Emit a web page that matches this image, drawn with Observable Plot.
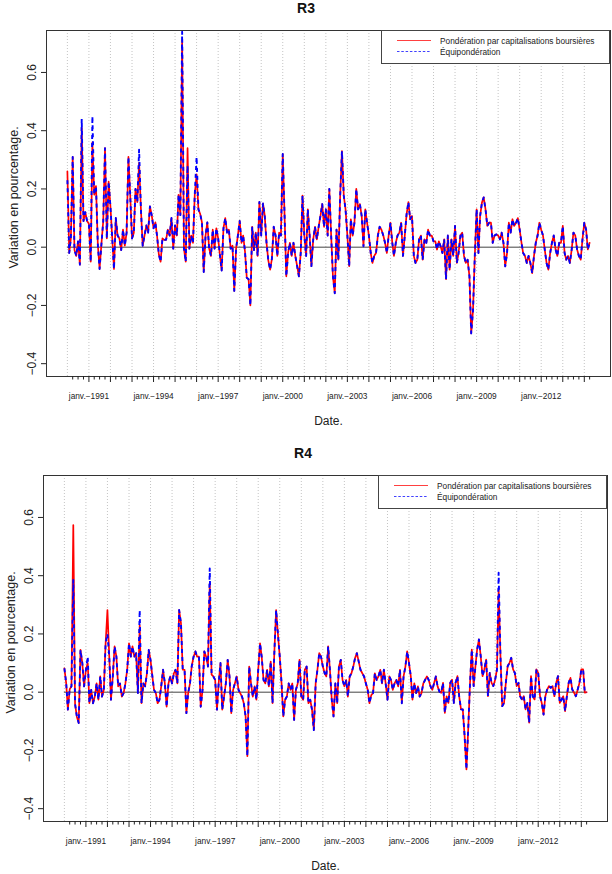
<!DOCTYPE html>
<html>
<head>
<meta charset="utf-8">
<script src="https://cdn.jsdelivr.net/npm/d3@7"></script>
<script src="https://cdn.jsdelivr.net/npm/@observablehq/plot@0.6"></script>
<style>
  body { margin: 0; background: #fff; }
  #page { position: relative; width: 612px; height: 874px; overflow: hidden;
          font-family: "Liberation Sans", Arial, Helvetica, sans-serif; color: #111; }
  .panel { position: absolute; width: 612px; height: 445px; }
  .title { position: absolute; left: 0; top: 0; width: 612px; text-align: center;
           font-weight: bold; font-size: 14px; line-height: 16px; }
  .legend { position: absolute; }
</style>
</head>
<body>
<div id="page"></div>
<script>
// Monthly observations, January 1990 to April 2014
const startYear = 1990;
const nMonths = 292;

// R3 — capitalisation-weighted returns
const r3Cap = [
  0.26, -0.02, 0.03, 0.31, -0.01, -0.03, 0.02, -0.06, 0.41, 0.09, 0.12, 0.09,
  0.08, -0.05, 0.36, 0.18, 0.21, 0.01, -0.075, 0.01, 0.09, 0.34, 0.03, 0.225,
  0.14, 0.03, -0.075, 0.10, 0.04, 0.03, -0.01, 0.06, 0.005, 0.05, 0.31, 0.18,
  0.03, 0.05, 0.20, 0.155, 0.29, 0.13, 0.005, 0.04, 0.075, 0.05, 0.14, 0.11,
  0.065, 0.085, 0.04, -0.025, -0.05, 0.03, 0.025, 0.025, 0.06, 0.04, 0.10, -0.005,
  0.075, 0.04, 0.18, 0.11, 0.71, -0.005, -0.05, 0.34, -0.005, 0.04, 0.015, 0.18,
  0.25, 0.13, 0.115, 0.085, -0.085, 0.04, 0.085, -0.005, -0.03, 0.06, -0.005, 0.065,
  0.03, -0.03, -0.08, 0.065, 0.10, 0.05, 0.06, -0.005, 0.005, -0.15, -0.005, 0.04,
  0.09, 0.015, 0.04, -0.015, -0.105, -0.11, -0.20, 0.07, -0.01, 0.05, -0.03, 0.155,
  0.04, 0.15, 0.11, 0.015, -0.045, -0.077, -0.04, 0.07, 0.04, -0.03, 0.05, 0.04,
  0.32, 0.11, -0.1, -0.02, 0.015, -0.03, 0.015, -0.03, -0.065, -0.1, -0.02, 0.177,
  0.04, -0.03, 0.13, 0.04, -0.065, 0.027, 0.07, 0.027, 0.07, 0.107, 0.148, 0.07,
  0.13, 0.04, 0.2, 0.04, -0.1, -0.158, 0.06, -0.043, 0.177, 0.33, 0.177, 0.13,
  0.04, -0.065, 0.096, 0.04, 0.084, 0.2, 0.13, 0.148, 0.107, 0.003, 0.13, 0.084,
  0.04, -0.02, -0.054, -0.03, -0.02, 0.04, 0.07, 0.06, 0.04, 0.015, -0.02, 0.04,
  0.084, 0.015, -0.03, 0.015, 0.04, 0.05, 0.084, -0.03, 0.04, 0.113, 0.155, 0.096,
  0.107, -0.03, -0.054, -0.043, 0.027, 0.04, -0.043, 0.027, 0.015, 0.06, 0.04, 0.04,
  0.02, 0.02, -0.008, 0.02, 0.003, -0.02, 0.027, -0.11, 0.04, -0.077, 0.027, -0.03,
  0.073, -0.054, -0.02, 0.04, 0.05, -0.03, -0.054, -0.043, -0.1, -0.296, -0.216, -0.03,
  0.13, -0.02, 0.107, 0.153, 0.171, 0.13, 0.073, 0.084, 0.084, 0.015, 0.04, 0.044,
  0.04, 0.027, 0.05, 0.015, -0.066, -0.02, 0.084, 0.05, 0.096, 0.073, 0.084, 0.1,
  0.06, 0.015, -0.02, -0.03, -0.054, -0.03, -0.054, -0.089, -0.03, 0.015, 0.04, 0.084,
  0.06, 0.04, -0.008, -0.054, -0.077, -0.02, 0.015, 0.04, -0.008, -0.03, 0.015, 0.015,
  0.073, -0.02, -0.043, -0.03, -0.054, -0.008, 0.05, 0.04, -0.008, -0.03, -0.043, 0.027,
  0.084, 0.06, -0.008, 0.015
];

// R3 — equal-weighted returns
const r3Eq = [
  0.23, -0.02, 0.03, 0.31, -0.01, -0.03, 0.02, -0.06, 0.44, 0.09, 0.12, 0.09,
  0.08, -0.05, 0.45, 0.18, 0.21, 0.01, -0.075, 0.01, 0.09, 0.34, 0.03, 0.225,
  0.14, 0.03, -0.075, 0.10, 0.04, 0.03, -0.01, 0.06, 0.005, 0.05, 0.31, 0.18,
  0.03, 0.05, 0.20, 0.155, 0.335, 0.13, 0.005, 0.04, 0.075, 0.05, 0.14, 0.11,
  0.065, 0.085, 0.04, -0.025, -0.05, 0.03, 0.025, 0.025, 0.06, 0.04, 0.10, -0.005,
  0.075, 0.04, 0.18, 0.11, 0.74, -0.005, -0.05, 0.28, -0.005, 0.04, 0.015, 0.18,
  0.31, 0.13, 0.115, 0.085, -0.085, 0.04, 0.085, -0.005, -0.03, 0.06, -0.005, 0.065,
  0.03, -0.03, -0.08, 0.065, 0.10, 0.05, 0.06, -0.005, 0.005, -0.15, -0.005, 0.04,
  0.09, 0.015, 0.04, -0.015, -0.105, -0.11, -0.20, 0.07, -0.01, 0.05, -0.03, 0.155,
  0.04, 0.15, 0.11, 0.015, -0.045, -0.077, -0.04, 0.07, 0.04, -0.03, 0.05, 0.04,
  0.32, 0.11, -0.1, -0.02, 0.015, -0.03, 0.015, -0.03, -0.065, -0.1, -0.02, 0.177,
  0.04, -0.03, 0.13, 0.04, -0.065, 0.027, 0.07, 0.027, 0.07, 0.107, 0.148, 0.07,
  0.13, 0.04, 0.2, 0.04, -0.1, -0.158, 0.06, -0.043, 0.177, 0.33, 0.177, 0.13,
  0.04, -0.065, 0.096, 0.04, 0.084, 0.2, 0.13, 0.148, 0.107, 0.003, 0.13, 0.084,
  0.04, -0.02, -0.054, -0.03, -0.02, 0.04, 0.07, 0.06, 0.04, 0.015, -0.02, 0.04,
  0.084, 0.015, -0.03, 0.015, 0.04, 0.05, 0.084, -0.03, 0.04, 0.113, 0.155, 0.096,
  0.107, -0.03, -0.054, -0.043, 0.027, 0.04, -0.043, 0.027, 0.015, 0.06, 0.04, 0.04,
  0.02, 0.02, -0.008, 0.02, 0.003, -0.02, 0.027, -0.11, 0.04, -0.077, 0.027, -0.03,
  0.073, -0.054, -0.02, 0.04, 0.05, -0.03, -0.054, -0.043, -0.1, -0.296, -0.216, -0.03,
  0.13, -0.02, 0.107, 0.153, 0.171, 0.13, 0.073, 0.084, 0.084, 0.015, 0.04, 0.044,
  0.04, 0.027, 0.05, 0.015, -0.066, -0.02, 0.084, 0.05, 0.096, 0.073, 0.084, 0.1,
  0.06, 0.015, -0.02, -0.03, -0.054, -0.03, -0.054, -0.089, -0.03, 0.015, 0.04, 0.084,
  0.06, 0.04, -0.008, -0.054, -0.077, -0.02, 0.015, 0.04, -0.008, -0.03, 0.015, 0.015,
  0.073, -0.02, -0.043, -0.03, -0.054, -0.008, 0.05, 0.04, -0.008, -0.03, -0.043, 0.027,
  0.084, 0.06, -0.008, 0.015
];

// R4 — capitalisation-weighted returns
const r4Cap = [
  0.082, 0.03, -0.06, 0.01, 0.02, 0.574, -0.04, -0.085, -0.106, 0.145, 0.1, 0.02,
  0.077, 0.10, -0.038, 0.008, -0.038, -0.015, 0.03, -0.026, 0.054, -0.015, 0.008, 0.168,
  0.282, 0.122, -0.026, 0.054, 0.157, 0.122, 0.02, 0.03, -0.015, -0.003, 0.03, 0.077,
  0.168, 0.122, 0.157, 0.122, 0.134, -0.003, 0.23, -0.038, 0.03, 0.02, 0.065, 0.145,
  0.11, 0.054, 0.008, -0.003, -0.038, -0.026, 0.02, 0.077, 0.03, -0.05, 0.03, 0.054,
  0.03, 0.065, 0.077, 0.03, 0.282, 0.237, 0.077, 0.077, -0.072, -0.003, 0.03, 0.09,
  0.122, 0.14, 0.122, 0.122, -0.05, 0.008, 0.14, 0.122, 0.088, 0.374, 0.06, 0.054,
  0.042, -0.06, 0.03, 0.1, -0.06, -0.015, 0.03, 0.111, 0.054, -0.072, 0.008, 0.03,
  0.054, 0.008, -0.003, -0.015, -0.038, -0.083, -0.22, 0.088, 0.03, -0.015, 0.02, -0.026,
  0.077, 0.168, 0.122, 0.042, 0.03, 0.077, 0.02, 0.105, -0.038, 0.134, 0.282, 0.2,
  0.122, 0.03, -0.083, -0.026, -0.015, 0.03, 0.008, 0.03, -0.095, 0.008, 0.03, 0.111,
  -0.015, -0.026, 0.077, 0.088, -0.038, -0.026, -0.06, -0.13, 0.03, 0.077, 0.134, 0.122,
  0.088, 0.065, 0.054, 0.157, 0.077, -0.026, -0.083, 0.03, -0.038, 0.088, 0.111, 0.042,
  0.02, 0.042, -0.015, 0.054, 0.065, 0.088, 0.117, 0.134, 0.105, 0.077, 0.065, 0.054,
  0.03, 0.008, -0.038, -0.01, -0.003, 0.065, 0.042, 0.054, 0.077, 0.03, 0.077, 0.03,
  -0.026, 0.054, 0.042, 0.008, 0.03, 0.042, 0.02, 0.077, -0.038, 0.054, 0.088, 0.14,
  0.1, 0.054, -0.026, 0.03, -0.003, 0.02, -0.015, -0.003, 0.03, 0.042, 0.054, 0.042,
  0.02, 0.008, 0.03, 0.054, 0.02, 0.002, -0.002, 0.032, -0.071, -0.014, -0.037, 0.032,
  0.043, -0.037, 0.032, 0.055, -0.014, -0.059, -0.059, -0.151, -0.265, -0.128, 0.032, 0.146,
  0.021, 0.089, 0.146, 0.181, 0.124, 0.055, 0.078, 0.112, -0.014, 0.066, 0.032, 0.021,
  0.043, 0.078, 0.352, 0.124, -0.048, -0.037, 0.032, 0.089, 0.101, 0.118, 0.078, 0.066,
  0.021, 0.032, -0.014, -0.025, -0.014, -0.059, -0.037, -0.105, 0.055, -0.014, -0.025, 0.078,
  0.066, -0.014, -0.037, -0.077, -0.014, 0.009, 0.021, 0.015, 0.021, -0.014, 0.032, 0.055,
  -0.037, -0.025, -0.014, -0.065, -0.014, 0.032, 0.049, 0.009, -0.002, -0.014, 0.009, 0.032,
  0.078, 0.078, -0.002, 0.0
];

// R4 — equal-weighted returns
const r4Eq = [
  0.082, 0.03, -0.06, 0.01, 0.02, 0.385, -0.04, -0.085, -0.106, 0.145, 0.1, 0.02,
  0.077, 0.122, -0.038, 0.008, -0.038, -0.015, 0.03, -0.026, 0.054, -0.015, 0.008, 0.168,
  0.2, 0.122, -0.026, 0.054, 0.157, 0.122, 0.02, 0.03, -0.015, -0.003, 0.03, 0.077,
  0.168, 0.122, 0.157, 0.122, 0.134, -0.003, 0.282, -0.038, 0.03, 0.02, 0.065, 0.145,
  0.11, 0.054, 0.008, -0.003, -0.038, -0.026, 0.02, 0.077, 0.03, -0.05, 0.03, 0.054,
  0.03, 0.065, 0.077, 0.03, 0.282, 0.237, 0.077, 0.077, -0.072, -0.003, 0.03, 0.09,
  0.122, 0.14, 0.122, 0.122, -0.05, 0.008, 0.14, 0.122, 0.088, 0.425, 0.06, 0.054,
  0.042, -0.06, 0.03, 0.1, -0.06, -0.015, 0.03, 0.111, 0.054, -0.072, 0.008, 0.03,
  0.054, 0.008, -0.003, -0.015, -0.038, -0.083, -0.22, 0.088, 0.03, -0.015, 0.02, -0.026,
  0.077, 0.168, 0.122, 0.042, 0.03, 0.077, 0.02, 0.105, -0.038, 0.134, 0.282, 0.2,
  0.122, 0.03, -0.083, -0.026, -0.015, 0.03, 0.008, 0.03, -0.095, 0.008, 0.03, 0.111,
  -0.015, -0.026, 0.077, 0.088, -0.038, -0.026, -0.06, -0.13, 0.03, 0.077, 0.134, 0.122,
  0.088, 0.065, 0.054, 0.157, 0.077, -0.026, -0.083, 0.03, -0.038, 0.088, 0.111, 0.042,
  0.02, 0.042, -0.015, 0.054, 0.065, 0.088, 0.117, 0.134, 0.105, 0.077, 0.065, 0.054,
  0.03, 0.008, -0.038, -0.01, -0.003, 0.065, 0.042, 0.054, 0.077, 0.03, 0.077, 0.03,
  -0.026, 0.054, 0.042, 0.008, 0.03, 0.042, 0.02, 0.077, -0.038, 0.054, 0.088, 0.14,
  0.1, 0.054, -0.026, 0.03, -0.003, 0.02, -0.015, -0.003, 0.03, 0.042, 0.054, 0.042,
  0.02, 0.008, 0.03, 0.054, 0.02, 0.002, -0.002, 0.032, -0.071, -0.014, -0.037, 0.032,
  0.043, -0.037, 0.032, 0.055, -0.014, -0.059, -0.059, -0.151, -0.265, -0.128, 0.032, 0.146,
  0.021, 0.089, 0.146, 0.181, 0.124, 0.055, 0.078, 0.112, -0.014, 0.066, 0.032, 0.021,
  0.043, 0.078, 0.41, 0.124, -0.048, -0.037, 0.032, 0.089, 0.101, 0.118, 0.078, 0.066,
  0.021, 0.032, -0.014, -0.025, -0.014, -0.059, -0.037, -0.105, 0.055, -0.014, -0.025, 0.078,
  0.066, -0.014, -0.037, -0.077, -0.014, 0.009, 0.021, 0.015, 0.021, -0.014, 0.032, 0.055,
  -0.037, -0.025, -0.014, -0.065, -0.014, 0.032, 0.049, 0.009, -0.002, -0.014, 0.009, 0.032,
  0.078, 0.078, -0.002, 0.0
];

// Axis ticks and labels
const yTicks = [-0.4, -0.2, 0, 0.2, 0.4, 0.6];
const labelYears = [1991, 1994, 1997, 2000, 2003, 2006, 2009, 2012];
const seriesNames = ["Pondération par capitalisations boursières", "Équipondération"];
const seriesColors = ["#ff0000", "#0000ff"];
const yLabel = "Variation en pourcentage.";
const xLabel = "Date.";

const FONT = '"Liberation Sans", Arial, Helvetica, sans-serif';
const months = d3.range(nMonths).map(i => new Date(Date.UTC(startYear, i, 1)));
const first = months[0], last = months[months.length - 1];
const pad = (last - first) * 0.04;
const xDomain = [new Date(+first - pad), new Date(+last + pad)];

const gridDates = d3.range(1990, 2015).map(y => new Date(Date.UTC(y, 0, 1)));
const majorDates = d3.range(1991, 2015).map(y => new Date(Date.UTC(y, 0, 1)));
const minorDates = [];
for (let y = 1990; y <= 2014; y++) for (const m of [3, 6, 9]) {
  const d = new Date(Date.UTC(y, m, 1));
  if (d <= last) minorDates.push(d);
}
const labelDates = labelYears.map(y => new Date(Date.UTC(y, 0, 1)));
const fmtY = v => (v < 0 ? "\u2212" : "") + Math.abs(v).toFixed(1);

// Legend box: line samples and series names
function legendSvg() {
  const w = 229, h = 34;
  const ns = "http://www.w3.org/2000/svg";
  const svg = document.createElementNS(ns, "svg");
  svg.setAttribute("width", w); svg.setAttribute("height", h);
  svg.style.fontFamily = FONT;
  svg.style.display = "block";
  const add = (tag, attrs, text) => {
    const el = document.createElementNS(ns, tag);
    for (const k in attrs) el.setAttribute(k, attrs[k]);
    if (text) el.textContent = text;
    svg.appendChild(el); return el;
  };
  add("rect", {x: 0.5, y: 0.5, width: w - 1, height: h - 1, fill: "#fff", stroke: "#444"});
  const rowY = [10.5, 21.5];
  const samples = [
    {stroke: "#ff4040"},
    {stroke: "#4040ff", "stroke-dasharray": "2.5,1.8"}
  ];
  seriesNames.forEach((name, i) => {
    add("line", Object.assign({x1: 16, x2: 50, y1: rowY[i], y2: rowY[i], "stroke-width": 1.1}, samples[i]));
    add("text", {x: 59, y: rowY[i] + 3, "font-size": 8.3, fill: "#222"}, name);
  });
  return svg;
}

function panel(title, cap, eq, top, shift) {
  const rows = months.map((d, i) => ({date: d, cap: cap[i], eq: eq[i]}));
  const div = document.createElement("div");
  div.className = "panel";
  div.style.top = top + "px";
  div.style.left = shift + "px";
  const t = document.createElement("div");
  t.className = "title"; t.textContent = title;
  div.appendChild(t);

  const chart = Plot.plot({
    width: 612, height: 405,
    marginTop: 8, marginBottom: 51, marginLeft: 46, marginRight: 2,
    style: {fontFamily: FONT, fontSize: "12px", background: "white", overflow: "visible", color: "#222"},
    x: {type: "utc", domain: xDomain, axis: null},
    y: {domain: [-0.444, 0.744], axis: null},
    marks: [
      Plot.ruleX(gridDates, {stroke: "#c4c4c4", strokeDasharray: "1,2", strokeWidth: 1}),
      Plot.ruleY([0], {x1: first, x2: last, stroke: "#444", strokeWidth: 1}),
      Plot.line(rows, {x: "date", y: "cap", stroke: seriesColors[0], strokeWidth: 1.7}),
      Plot.line(rows, {x: "date", y: "eq", stroke: seriesColors[1], strokeWidth: 1.9,
        strokeDasharray: "4,4", strokeLinecap: "butt"}),
      Plot.frame({stroke: "#333"}),
      Plot.axisY({ticks: yTicks, tickSize: 5, tickFormat: () => "", label: null}),
      Plot.text(yTicks, {y: d => d, text: fmtY, frameAnchor: "left", dx: -14.5,
        rotate: -90, textAnchor: "middle", fontSize: 12, lineAnchor: "middle", fill: "#222"}),
      Plot.axisX({ticks: majorDates, tickSize: 6, tickFormat: () => "", label: null}),
      Plot.axisX({ticks: minorDates, tickSize: 3.5, tickFormat: () => "", label: null}),
      Plot.text(labelDates, {x: d => d, text: d => "janv.\u2212" + d.getUTCFullYear(),
        frameAnchor: "bottom", dy: 20, fontSize: 8.3, lineAnchor: "middle", fill: "#222"}),
      Plot.text([xLabel], {frameAnchor: "bottom", dy: 45, fontSize: 12, lineAnchor: "middle", fill: "#222"}),
      Plot.text([yLabel], {frameAnchor: "left", dx: -33, dy: -6, rotate: -90, textAnchor: "middle",
        fontSize: 12.5, lineAnchor: "middle", fill: "#222"})
    ]
  });
  chart.style.position = "absolute";
  chart.style.left = "0px";
  chart.style.top = "22px";
  div.appendChild(chart);

  const lg = document.createElement("div");
  lg.className = "legend";
  lg.style.left = "381px";
  lg.style.top = "30px";
  lg.appendChild(legendSvg());
  div.appendChild(lg);
  return div;
}

const page = document.getElementById("page");
page.appendChild(panel("R3", r3Cap, r3Eq, 0, 0));
page.appendChild(panel("R4", r4Cap, r4Eq, 445, -3));
</script>
</body>
</html>
